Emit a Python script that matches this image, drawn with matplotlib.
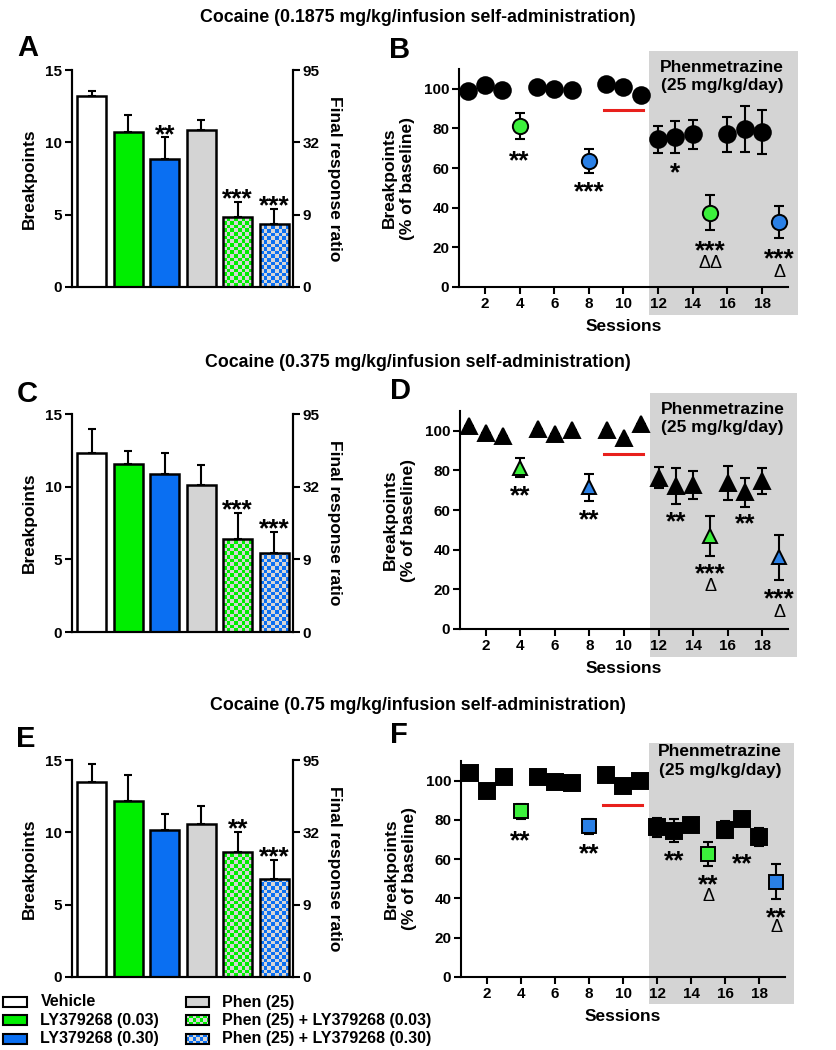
import numpy as np
import matplotlib
matplotlib.use("Agg")
import matplotlib.pyplot as plt
from matplotlib.patches import Rectangle
from matplotlib.colors import ListedColormap

plt.rcParams['font.family'] = ['Liberation Sans', 'DejaVu Sans']
plt.rcParams['font.weight'] = 'bold'
plt.rcParams['axes.linewidth'] = 1.5

W, H = 837, 1050

####################### data
groups = ["Vehicle", "LY379268 (0.03)", "LY379268 (0.30)",
          "Phen (25)", "Phen (25) + LY379268 (0.03)", "Phen (25) + LY379268 (0.30)"]
ratio_ticks = ["0", "9", "32", "95"]

# breakpoints (mean, sem) for A / C / E
bp_A = [13.2, 10.7, 8.85, 10.85, 4.85, 4.35]
sem_A = [0.35, 1.2, 1.5, 0.7, 1.05, 1.05]
star_A = ["", "", "**", "", "***", "***"]

bp_C = [12.35, 11.55, 10.9, 10.1, 6.4, 5.45]
sem_C = [1.6, 0.9, 1.4, 1.4, 1.8, 1.45]
star_C = ["", "", "", "", "***", "***"]

bp_E = [13.45, 12.15, 10.15, 10.6, 8.65, 6.8]
sem_E = [1.3, 1.8, 1.1, 1.25, 1.4, 1.3]
star_E = ["", "", "", "", "**", "***"]

# sessions (B / D / F)
sessions = list(range(1, 20))
# k = baseline/phen, g = LY 0.03, b = LY 0.30
sess_col = ["k", "k", "k", "g", "k", "k", "k", "b", "k", "k",
            "k", "k", "k", "k", "g", "k", "k", "k", "b"]

pct_B = [98.8, 101.8, 99.3, 81.3, 100.7, 99.7, 99.3, 63.5, 102.4, 100.7,
         96.8, 74.5, 75.8, 77.0, 37.5, 77.0, 79.8, 78.3, 32.6]
sem_B = [0, 0, 0, 6.6, 0, 0, 0, 6.0, 0, 0,
         0, 6.65, 8.1, 7.4, 8.9, 9.0, 11.7, 11.25, 8.1]
sig_B = [(4, "**", 67.4), (8, "***", 51.8), (13, "*", 61.5), (15, "***", 22.0), (19, "***", 17.8)]
dlt_B = [(15, "\u0394\u0394", 13.6), (19, "\u0394", 8.9)]

pct_D = [102.5, 99.0, 97.6, 81.3, 100.7, 98.2, 100.3, 71.4, 100.2, 96.3,
         103.5, 76.3, 72.3, 72.7, 47.0, 73.6, 68.9, 74.8, 36.1]
sem_D = [0, 0, 0, 4.85, 0, 0, 0, 6.9, 0, 0,
         0, 5.4, 9.15, 7.25, 10.05, 8.6, 7.4, 6.45, 11.25]
sig_D = [(4, "**", 70.8), (8, "**", 58.8), (13, "**", 58.0), (17, "**", 56.5), (15, "***", 31.3), (19, "***", 18.7)]
dlt_D = [(15, "\u0394", 23.2), (19, "\u0394", 10.0)]

pct_F = [103.9, 94.5, 101.7, 84.3, 101.9, 99.3, 98.8, 76.7, 102.7, 97.4,
         100.0, 76.3, 74.6, 77.3, 62.5, 75.0, 80.4, 71.2, 48.6]
sem_F = [0, 0, 0, 3.9, 0, 0, 0, 4.0, 0, 0,
         0, 4.85, 6.05, 0, 6.0, 4.35, 0, 4.7, 8.95]
sig_F = [(4, "**", 73.3), (8, "**", 66.4), (13, "**", 63.0), (17, "**", 61.3), (15, "**", 50.8), (19, "**", 33.7)]
dlt_F = [(15, "\u0394", 42.6), (19, "\u0394", 26.9)]

# red baseline bar (sessions 9-11)
red_x = [8.85, 11.1]
red_B = 89.4
red_D = 88.2
red_F = 87.7

titles = ["Cocaine (0.1875 mg/kg/infusion self-administration)",
          "Cocaine (0.375 mg/kg/infusion self-administration)",
          "Cocaine (0.75 mg/kg/infusion self-administration)"]
####################### data

GREEN = "#00ee00"
BLUE = "#0a6ff2"
GRAY = "#d4d4d4"
CHK = "#d6d6d6"
MGREEN = "#3cf03c"
MBLUE = "#2a80e6"
face = ["white", GREEN, BLUE, GRAY, CHK, CHK]
check = [None, None, None, None, GREEN, BLUE]

STAR_FS = 19
DLT_FS = 13


def fx(x, y, w, h):
    # pixel box -> figure fraction
    return [x / W, 1 - (y + h) / H, w / W, h / H]


def checker(ax, x0, x1, y0, y1, ncol, nrow, col, clip=None, z=2):
    img = np.add.outer(np.arange(nrow), np.arange(ncol)) % 2
    im = ax.imshow(img, cmap=ListedColormap([CHK, col]), extent=[x0, x1, y0, y1],
                   origin='lower', aspect='auto', interpolation='nearest', zorder=z)
    if clip is not None:
        im.set_clip_path(clip)
    return im


def bar_panel(ax, vals, sem, stars):
    x = np.arange(len(vals))
    bars = ax.bar(x, vals, width=0.8, color=face, edgecolor='none', zorder=1.5)
    for i, b in enumerate(bars):
        if check[i] is not None:
            top = 0.25 * np.ceil(vals[i] / 0.25)
            checker(ax, x[i] - 0.4, x[i] + 0.4, 0, top, 8, int(top / 0.25), check[i], clip=b)
    ax.bar(x, vals, width=0.8, fill=False, edgecolor='k', linewidth=1.8, zorder=3)
    ax.errorbar(x, vals, yerr=[np.zeros(len(vals)), sem], fmt='none', ecolor='k',
                elinewidth=1.5, capsize=3, capthick=1.5, zorder=2.8)
    for i in range(len(vals)):
        if stars[i]:
            ax.annotate(stars[i], (x[i], vals[i] + sem[i] + 0.7), xytext=(0, -0.56 * STAR_FS),
                        textcoords='offset points', ha='center', va='baseline',
                        fontsize=STAR_FS, fontweight='bold')
    ax.set_xlim(-0.54, 5.51)
    ax.set_ylim(0, 15)
    ax.set_xticks([])
    ax.set_yticks([0, 5, 10, 15])
    ax.spines['top'].set_visible(False)
    ax.tick_params(axis='y', width=1.5, length=5, labelsize=11, pad=2)
    ax.set_ylabel("Breakpoints", fontsize=12.5, fontweight='bold', labelpad=6)
    ax2 = ax.twinx()
    ax2.set_ylim(0, 15)
    ax2.set_yticks([0, 5, 10, 15])
    ax2.set_yticklabels(ratio_ticks)
    ax2.spines['top'].set_visible(False)
    ax2.tick_params(axis='y', width=1.5, length=5, labelsize=11, pad=2)
    ax2.set_ylabel("Final response ratio", fontsize=12.5, fontweight='bold',
                   rotation=-90, labelpad=16)


def session_panel(ax, vals, sem, marker, ms_k, ms_c, red_y, sig, dlt, ptxt_y):
    ax.add_patch(Rectangle((11.5, -14), 8.55, 133, facecolor=GRAY, edgecolor='none',
                           clip_on=False, zorder=0))
    ax.errorbar(sessions, vals, yerr=sem, fmt='none', ecolor='k', elinewidth=1.5,
                capsize=3.5, capthick=1.5, zorder=3)
    for code, c, ms in [("k", "k", ms_k), ("g", MGREEN, ms_c), ("b", MBLUE, ms_c)]:
        xs = [s for s, cc in zip(sessions, sess_col) if cc == code]
        ys = [v for v, cc in zip(vals, sess_col) if cc == code]
        ax.plot(xs, ys, linestyle='none', marker=marker, markersize=ms,
                markerfacecolor=c, markeredgecolor='k', markeredgewidth=1.4, zorder=4)
    ax.plot(red_x, [red_y, red_y], color='#e8201c', linewidth=2.2, zorder=3)
    for s, t, y in sig:
        ax.annotate(t, (s, y), xytext=(0, -0.56 * STAR_FS), textcoords='offset points',
                    ha='center', va='baseline', fontsize=STAR_FS, fontweight='bold')
    for s, t, y in dlt:
        ax.annotate(t, (s, y), xytext=(0, -0.36 * DLT_FS - 1), textcoords='offset points',
                    ha='center', va='baseline', fontsize=DLT_FS, fontweight='normal')
    ax.text(15.7, ptxt_y, "Phenmetrazine\n(25 mg/kg/day)", ha='center', va='center',
            fontsize=12.5, fontweight='bold', linespacing=1.25)
    ax.set_xlim(0.5, 19.5)
    ax.set_ylim(0, 110)
    ax.set_xticks(range(2, 19, 2))
    ax.set_yticks(range(0, 101, 20))
    ax.spines['top'].set_visible(False)
    ax.spines['right'].set_visible(False)
    ax.tick_params(width=1.5, length=5, labelsize=11, pad=2)
    ax.set_xlabel("Sessions", fontsize=12.5, fontweight='bold', labelpad=6)
    ax.set_ylabel("Breakpoints\n(% of baseline)", fontsize=12.5, fontweight='bold',
                  labelpad=6, linespacing=1.3)


fig = plt.figure(figsize=(W / 100, H / 100), dpi=100)

axA = fig.add_axes(fx(72, 70, 221, 217))
axC = fig.add_axes(fx(72, 414, 221, 218))
axE = fig.add_axes(fx(72, 760, 221, 217))
bar_panel(axA, bp_A, sem_A, star_A)
bar_panel(axC, bp_C, sem_C, star_C)
bar_panel(axE, bp_E, sem_E, star_E)

axB = fig.add_axes(fx(459, 69, 329, 218))
axD = fig.add_axes(fx(460, 411, 328, 218))
axF = fig.add_axes(fx(461, 761, 324, 216))
session_panel(axB, pct_B, sem_B, 'o', 12, 11, red_B, sig_B, dlt_B, 106)
session_panel(axD, pct_D, sem_D, '^', 11, 10, red_D, sig_D, dlt_D, 106)
session_panel(axF, pct_F, sem_F, 's', 11.5, 9.5, red_F, sig_F, dlt_F, 110)

# titles and panel letters
for t, y in zip(titles, [17, 362, 705]):
    fig.text(418 / W, 1 - y / H, t, ha='center', va='center', fontsize=12.8, fontweight='bold')
for l, x, y in [("A", 28, 48), ("B", 400, 50), ("C", 27, 394), ("D", 401, 391),
                ("E", 26, 739), ("F", 399, 735)]:
    fig.text(x / W, 1 - y / H, l, ha='center', va='center', fontsize=21, fontweight='bold')

# legend
ov = fig.add_axes([0, 0, 1, 1])
ov.set_xlim(0, W)
ov.set_ylim(H, 0)
ov.axis('off')
rows = [1002, 1020, 1039]
for i, g in enumerate(groups):
    col = i // 3
    yc = rows[i % 3]
    bx = [3.5, 186][col]
    tx = [40.5, 222.5][col]
    r = Rectangle((bx, yc - 5), 23.5, 10, facecolor=face[i], edgecolor='k', linewidth=1.5, zorder=3)
    if check[i] is not None:
        r.set_facecolor('none')
        checker(ov, bx, bx + 23.5, yc + 5, yc - 5, 7, 3, check[i], z=2)
    ov.add_patch(r)
    ov.text(tx, yc, g, ha='left', va='center', fontsize=11.5, fontweight='bold')

fig.savefig("out.png", dpi=100)
